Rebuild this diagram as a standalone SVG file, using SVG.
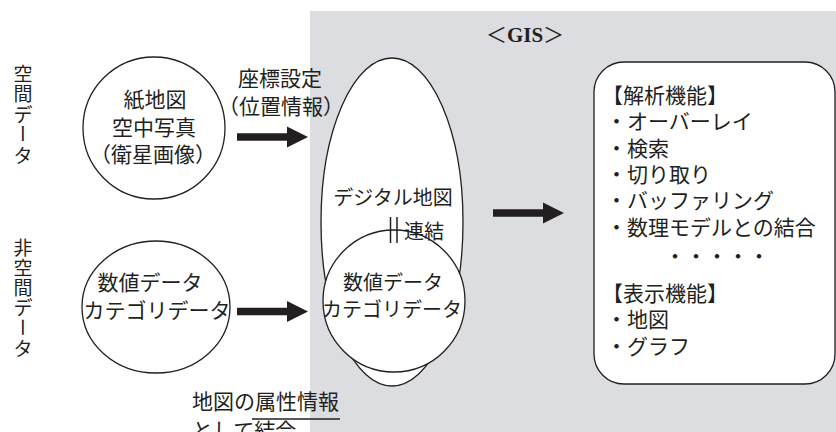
<svg xmlns="http://www.w3.org/2000/svg" width="836" height="432" viewBox="0 0 836 432">
<style>
text{font-family:"Noto Sans CJK JP","Noto Sans",sans-serif;fill:#231f20;}
.t{font-size:21px;}
.m{text-anchor:middle;}
.shape{fill:#fff;stroke:#231f20;stroke-width:1.3;}
.arr{fill:#231f20;}
.v{font-size:19px;text-anchor:middle;dominant-baseline:central;}
</style>
<defs>
<path id="arrowShape" d="M0,-3.8 H50 V-10.5 L71,0 L50,10.5 V3.8 H0 Z"/>
</defs>
<rect id="gis-area" x="310" y="11" width="526" height="421" fill="#dcdde0"/>
<text id="gis-title" x="525" y="42" class="m" font-size="21"><tspan>＜</tspan><tspan font-family="'Liberation Serif',serif" font-weight="bold">GIS</tspan><tspan>＞</tspan></text>

<g id="label-spatial">
<text class="v" x="23" y="72">空</text>
<text class="v" x="23" y="92.5">間</text>
<text class="v" x="23" y="113">デ</text>
<text class="v" transform="translate(23,133.5) rotate(90)">ー</text>
<text class="v" x="23" y="154.5">タ</text>
</g>
<g id="label-nonspatial">
<text class="v" x="23" y="246">非</text>
<text class="v" x="23" y="266.3">空</text>
<text class="v" x="23" y="286.6">間</text>
<text class="v" x="23" y="306.9">デ</text>
<text class="v" transform="translate(23,327.2) rotate(90)">ー</text>
<text class="v" x="23" y="347.5">タ</text>
</g>

<g id="node-paper-map">
<circle class="shape" cx="154" cy="128" r="71"/>
<text class="t m" x="155" y="107">紙地図</text>
<text class="t m" x="154" y="135">空中写真</text>
<text class="t m" x="153" y="162">（衛星画像）</text>
</g>

<g id="node-attr-data">
<ellipse class="shape" cx="156" cy="307" rx="74" ry="66"/>
<text class="t m" x="150" y="290">数値データ</text>
<text class="t m" x="157" y="318">カテゴリデータ</text>
</g>

<g id="node-digital-map">
<ellipse class="shape" cx="392" cy="222" rx="71" ry="164"/>
<text class="m" x="393" y="205" font-size="20">デジタル地図</text>
</g>

<g id="node-gis-attr">
<circle class="shape" cx="394" cy="301" r="71"/>
<text class="m" x="393" y="290" font-size="20">数値データ</text>
<text class="m" x="392" y="317" font-size="20">カテゴリデータ</text>
</g>

<g id="link-renketsu">
<line x1="390.5" y1="217" x2="390.5" y2="243" stroke="#231f20" stroke-width="1.5"/>
<line x1="397" y1="217" x2="397" y2="243" stroke="#231f20" stroke-width="1.5"/>
<text x="404" y="239" font-size="20">連結</text>
</g>

<g id="node-functions">
<rect class="shape" x="594" y="62" width="241" height="322" rx="30" ry="30"/>
<text class="t" x="602" y="103">【解析機能】</text>
<text class="t" x="606" y="129">・オーバーレイ</text>
<text class="t" x="606" y="156">・検索</text>
<text class="t" x="606" y="182">・切り取り</text>
<text class="t" x="606" y="208">・バッファリング</text>
<text class="t" x="606" y="235">・数理モデルとの結合</text>
<text class="t m" x="717" y="264">・・・・・</text>
<text class="t" x="602" y="301">【表示機能】</text>
<text class="t" x="606" y="327">・地図</text>
<text class="t" x="606" y="354">・グラフ</text>
</g>

<g id="connectors">
<use href="#arrowShape" class="arr" transform="translate(237,137)"/>
<use href="#arrowShape" class="arr" transform="translate(237,311.5)"/>
<use href="#arrowShape" class="arr" transform="translate(493,213)"/>
</g>

<g id="label-coord">
<text class="t m" x="280" y="86">座標設定</text>
<text class="t m" x="281" y="114">（位置情報）</text>
</g>

<g id="label-attr-join">
<text class="t" x="192" y="409">地図の属性情報</text>
<line x1="252" y1="419" x2="340" y2="419" stroke="#231f20" stroke-width="1.3"/>
<text class="t" x="192" y="438">として結合</text>
</g>
</svg>
